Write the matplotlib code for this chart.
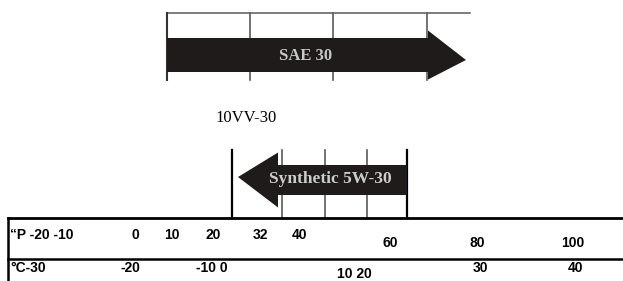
import matplotlib.pyplot as plt
from matplotlib.patches import Polygon

# oil grades shown on the chart
grades = ["SAE 30", "10VV-30", "Synthetic 5W-30"]

# temperature scale labels (as printed)
f_labels = ["\u201cP -20 -10", "0", "10", "20", "32", "40", "60", "80", "100"]
c_labels = ["\u00b0C-30", "-20", "-10 0", "10 20", "30", "40"]

# layout, in pixels of the 623x281 picture
f_x = [10, 135, 172, 213, 260, 300, 390, 477, 573]
f_y = [235, 235, 235, 235, 235, 235, 243, 243, 243]
c_x = [10, 130, 212, 354, 480, 576]
c_y = [268, 268, 268, 274, 268, 268]

sae_grid = [167, 250, 333, 427]
syn_grid = [232, 282, 325, 367, 407]

W, H = 623, 281
fig = plt.figure(figsize=(W / 100, H / 100), dpi=100)
ax = fig.add_axes([0, 0, 1, 1])
ax.set_xlim(0, W)
ax.set_ylim(H, 0)
ax.axis("off")

dark = "#1f1b1b"
grey = "#5a5a5a"


def arrow(x_start, x_end, yc, half, head_half, head_len, tip_dy=0):
    # x_start = tail, x_end = tip; works both directions
    d = 1 if x_end > x_start else -1
    base = x_end - d * head_len
    pts = [
        (x_start, yc - half),
        (base, yc - half),
        (base, yc - head_half),
        (x_end, yc + tip_dy),
        (base, yc + head_half),
        (base, yc + half),
        (x_start, yc + half),
    ]
    ax.add_patch(Polygon(pts, closed=True, color=dark, lw=0, zorder=3))


# --- SAE 30 box ---
ax.plot([167, 470], [13, 13], color=grey, lw=1.1, zorder=1)
for i, x in enumerate(sae_grid):
    ax.plot([x, x], [13, 80], color="#333" if i == 0 else grey,
            lw=1.5 if i == 0 else 1.2, zorder=1)
arrow(167, 466, 55, 17, 24.5, 38, tip_dy=5)
ax.text(306, 56, grades[0], color="#c8c8c8", fontsize=12,
        family="Liberation Serif", fontweight="bold",
        ha="center", va="center", zorder=4)

# --- 10W-30 (text only) ---
ax.text(215, 118, grades[1], color="black", fontsize=12,
        family="Liberation Serif", ha="left", va="center")

# --- Synthetic 5W-30 box ---
for i, x in enumerate(syn_grid):
    edge = i in (0, len(syn_grid) - 1)
    ax.plot([x, x], [150, 218], color="black" if edge else grey,
            lw=1.6 if edge else 1.2, zorder=1)
arrow(407, 238, 180, 15, 27.5, 40, tip_dy=-3)
ax.text(330, 179, grades[2], color="#cccccc", fontsize=12.5,
        family="Liberation Serif", fontweight="bold",
        ha="center", va="center", zorder=4)

# --- temperature table ---
ax.plot([8, W], [218, 218], color="black", lw=2.0, zorder=2)
ax.plot([8, W], [259, 259], color="black", lw=1.8, zorder=2)
ax.plot([8, 8], [218, H], color="black", lw=1.8, zorder=2)

for lab, x, y in zip(f_labels, f_x, f_y):
    ax.text(x, y, lab, fontsize=10, fontweight="bold", family="Liberation Sans",
            ha="left" if x == f_x[0] else "center", va="center")
for lab, x, y in zip(c_labels, c_x, c_y):
    ax.text(x, y, lab, fontsize=10, fontweight="bold", family="Liberation Sans",
            ha="left" if x == c_x[0] else "center", va="center")

fig.savefig("out.png", dpi=100)
